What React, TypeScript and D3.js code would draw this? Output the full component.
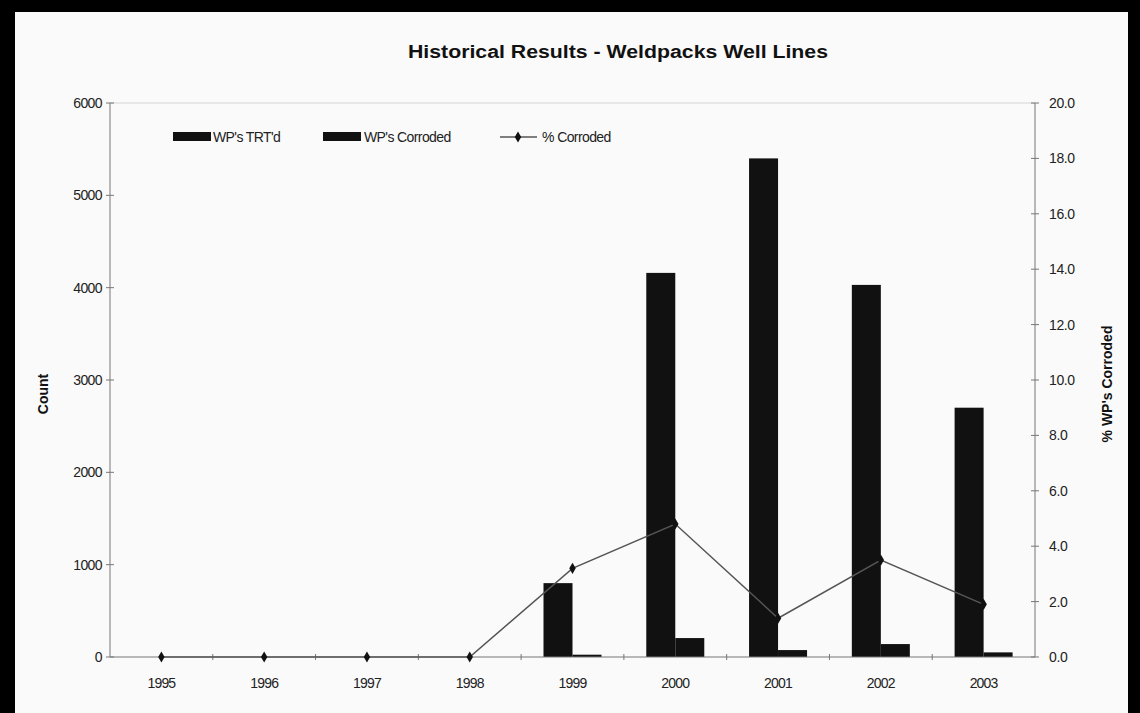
import React from 'react';
import * as d3 from 'd3';

const years = ['1995', '1996', '1997', '1998', '1999', '2000', '2001', '2002', '2003'];
const wpTreated = [0, 0, 0, 0, 800, 4160, 5400, 4030, 2700];
const wpCorroded = [0, 0, 0, 0, 25, 205, 75, 140, 50];
const pctCorroded = [0, 0, 0, 0, 3.2, 4.8, 1.4, 3.5, 1.9];
const countTicks = [0, 1000, 2000, 3000, 4000, 5000, 6000];
const pctTicks = [0, 2, 4, 6, 8, 10, 12, 14, 16, 18, 20];

const W = 1140;
const H = 713;
const left = 110;
const right = 1035;
const top = 103;
const bottom = 657;
const font = '"Liberation Sans", Arial, sans-serif';

const App: React.FC = () => {
  const x = d3.scaleBand<string>().domain(years).range([left, right]);
  const bw = x.bandwidth();
  const barW = 29;
  const xSub = d3.scaleBand<string>()
    .domain(['trtd', 'corroded'])
    .range([0, bw])
    .paddingInner(0)
    .paddingOuter((bw / barW - 2) / 2);

  const yCount = d3.scaleLinear().domain([0, 6000]).range([bottom, top]);
  const yPct = d3.scaleLinear().domain([0, 20]).range([bottom, top]);

  const cx = (y: string) => (x(y) || 0) + bw / 2;

  const line = d3.line<number>()
    .x((_, i) => cx(years[i]))
    .y(d => yPct(d));

  const diamond = d3.symbol().type(d3.symbolDiamond).size(36)() || '';

  return (
    <svg width={W} height={H} style={{ position: 'absolute', left: 0, top: 0, display: 'block' }}>
      {/* scanned page with black edges */}
      <rect x={0} y={0} width={W} height={H} fill="#fafafa" />
      <rect x={0} y={0} width={W} height={12} fill="#000" />
      <rect x={0} y={0} width={15} height={H} fill="#000" />
      <rect x={1128} y={0} width={12} height={H} fill="#000" />

      <text x={618} y={58} textAnchor="middle" fontFamily={font} fontWeight="bold"
        fontSize={18} textLength={420} lengthAdjust="spacingAndGlyphs" fill="#111">
        Historical Results - Weldpacks Well Lines
      </text>

      {/* plot frame */}
      <line x1={left} x2={right} y1={top} y2={top} stroke="#d4d4d4" />
      <line x1={left} x2={left} y1={top} y2={bottom} stroke="#777" />
      <line x1={right} x2={right} y1={top} y2={bottom} stroke="#777" />

      {/* bars */}
      {years.map((yr, i) => (
        <g key={yr}>
          <rect x={(x(yr) || 0) + (xSub('trtd') || 0)} y={yCount(wpTreated[i])}
            width={xSub.bandwidth()} height={bottom - yCount(wpTreated[i])} fill="#111" />
          <rect x={(x(yr) || 0) + (xSub('corroded') || 0)} y={yCount(wpCorroded[i])}
            width={xSub.bandwidth()} height={bottom - yCount(wpCorroded[i])} fill="#111" />
        </g>
      ))}

      {/* x axis */}
      <line x1={left} x2={right} y1={bottom} y2={bottom} stroke="#777" />
      {years.map((yr, i) => (
        <g key={'xt' + yr}>
          {i > 0 && <line x1={x(yr)} x2={x(yr)} y1={bottom - 3} y2={bottom + 3} stroke="#777" />}
          <text x={cx(yr)} y={bottom + 31} textAnchor="middle" fontFamily={font}
            fontSize={14} letterSpacing={-0.8} fill="#222">{yr}</text>
        </g>
      ))}

      {/* left axis */}
      {countTicks.map(t => (
        <g key={'yl' + t}>
          <line x1={left - 4} x2={left + 4} y1={yCount(t)} y2={yCount(t)} stroke="#777" />
          <text x={left - 8} y={yCount(t) + 5} textAnchor="end" fontFamily={font}
            fontSize={14} letterSpacing={-0.6} fill="#222">{t}</text>
        </g>
      ))}
      <text transform={`translate(48,${(top + bottom) / 2 + 14}) rotate(-90)`} textAnchor="middle"
        fontFamily={font} fontWeight="bold" fontSize={14} fill="#111">Count</text>

      {/* right axis */}
      {pctTicks.map(t => (
        <g key={'yr' + t}>
          <line x1={right - 4} x2={right + 4} y1={yPct(t)} y2={yPct(t)} stroke="#777" />
          <text x={right + 14} y={yPct(t) + 5} textAnchor="start" fontFamily={font}
            fontSize={14} letterSpacing={-0.4} fill="#222">{d3.format('.1f')(t)}</text>
        </g>
      ))}
      <text transform={`translate(1112,${(top + bottom) / 2 + 4}) rotate(-90)`} textAnchor="middle"
        fontFamily={font} fontWeight="bold" fontSize={14} fill="#111">% WP's Corroded</text>

      {/* % corroded line */}
      <path d={line(pctCorroded) || ''} fill="none" stroke="#555" strokeWidth={1.5} />
      {pctCorroded.map((v, i) => (
        <path key={'m' + i} d={diamond} transform={`translate(${cx(years[i])},${yPct(v)})`} fill="#111" />
      ))}

      {/* legend */}
      <g fontFamily={font} fontSize={14} fill="#222">
        <rect x={173} y={132} width={38} height={9} fill="#111" />
        <text x={213} y={142} letterSpacing={-0.6}>WP's TRT'd</text>
        <rect x={323} y={132} width={38} height={9} fill="#111" />
        <text x={364} y={142} letterSpacing={-0.6}>WP's Corroded</text>
        <line x1={500} x2={537} y1={137} y2={137} stroke="#555" strokeWidth={1.5} />
        <path d={diamond} transform="translate(518,137)" fill="#111" />
        <text x={542} y={142} letterSpacing={-0.6}>% Corroded</text>
      </g>
    </svg>
  );
};

export default App;
